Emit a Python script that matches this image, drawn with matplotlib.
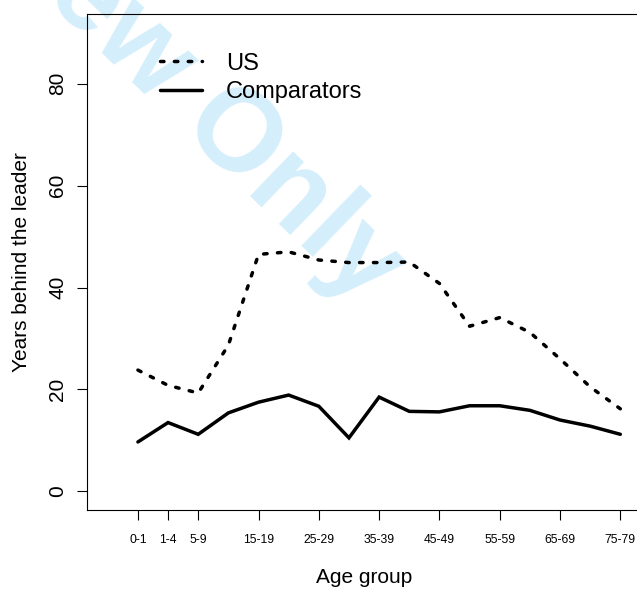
import matplotlib
matplotlib.use('Agg')
import matplotlib.pyplot as plt

plt.rcParams['font.family'] = ['Liberation Sans', 'DejaVu Sans']

# age group index 1..17 (0-1, 1-4, 5-9, 10-14, ..., 75-79)
positions = list(range(1, 18))
tick_pos = [1, 2, 3, 5, 7, 9, 11, 13, 15, 17]
tick_labels = ['0-1', '1-4', '5-9', '15-19', '25-29', '35-39',
               '45-49', '55-59', '65-69', '75-79']

us = [23.8, 20.8, 19.3, 28.7, 46.5, 47.0, 45.4, 44.9, 44.9, 45.0,
      40.8, 32.4, 34.1, 31.2, 26.0, 20.5, 16.2]
comparators = [9.7, 13.5, 11.2, 15.4, 17.5, 18.9, 16.7, 10.5, 18.5, 15.7,
               15.6, 16.8, 16.8, 15.9, 14.0, 12.8, 11.2]

fig = plt.figure(figsize=(6.37, 5.89), dpi=100)
ax = fig.add_axes([0.137, 0.1346, 0.869, 0.841])
ax.patch.set_alpha(0)

# watermark behind the plot
fig.text(0.573, 0.479, 'For Review Only', color='#d4effb', fontsize=84,
         fontweight='bold', rotation=-44, ha='right', va='baseline',
         rotation_mode='anchor', zorder=-1)

l_us, = ax.plot(positions, us, color='black', lw=2.5, linestyle=(0, (1, 3)),
                dash_capstyle='round', solid_capstyle='round')
l_cmp, = ax.plot(positions, comparators, color='black', lw=2.5,
                 solid_capstyle='round', solid_joinstyle='miter')

ax.set_xlim(-0.68, 17.68)
ax.set_ylim(-3.6, 93.6)

ax.spines['right'].set_visible(False)
for s in ['left', 'top', 'bottom']:
    ax.spines[s].set_linewidth(0.8)

ax.set_xticks(tick_pos)
ax.set_xticklabels(tick_labels, fontsize=8.7)
ax.set_yticks([0, 20, 40, 60, 80])
ax.set_yticklabels(['0', '20', '40', '60', '80'], fontsize=15, rotation=90,
                   va='center')
ax.tick_params(axis='x', length=7.5, width=0.8, pad=10)
ax.tick_params(axis='y', length=7.5, width=0.8, pad=7)

ax.set_xlabel('Age group', fontsize=15)
ax.set_ylabel('Years behind the leader', fontsize=15)
ax.xaxis.set_label_coords(0.5, -0.118)
ax.yaxis.set_label_coords(-0.102, 0.5)

ax.legend([l_us, l_cmp], ['US', 'Comparators'], loc='upper left',
          bbox_to_anchor=(0.131, 0.923), frameon=False, fontsize=17,
          handlelength=1.8, handletextpad=1.0, labelspacing=0.27,
          borderaxespad=0, borderpad=0)

fig.savefig('out.png', dpi=100)
